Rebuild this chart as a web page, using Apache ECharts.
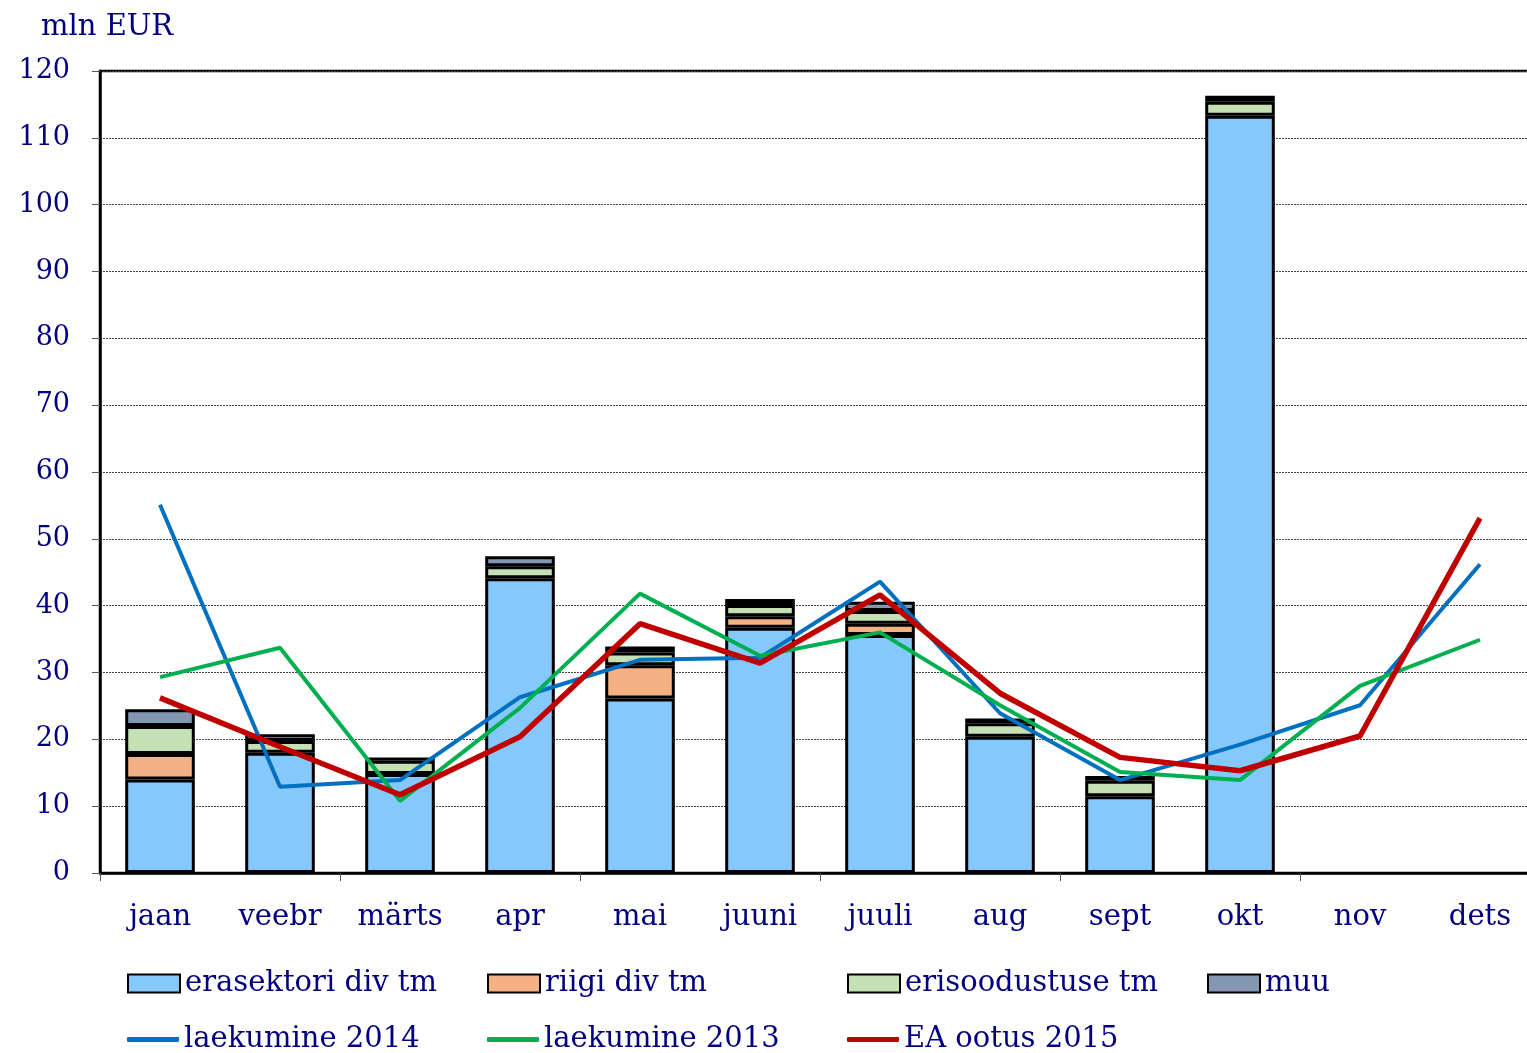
<!DOCTYPE html>
<html><head><meta charset="utf-8">
<script src="https://cdn.jsdelivr.net/npm/echarts@6/dist/echarts.min.js"></script>
<style>html,body{margin:0;padding:0;background:#fff;overflow:hidden}#c{width:1540px;height:1053px}</style>
</head><body><div id="c"></div>
<script>
const categories = ['jaan','veebr','märts','apr','mai','juuni','juuli','aug','sept','okt','nov','dets'];
const erasektori = [14.0, 18.0, 14.8, 44.1, 26.1, 36.7, 35.6, 20.4, 11.5, 113.3, null, null];
const riigi      = [3.8, null, null, null, 5.0, 1.7, 1.7, null, null, null, null, null];
const erisood    = [4.2, 1.75, 2.0, 1.8, 1.9, 1.7, 1.9, 2.0, 2.3, 2.1, null, null];
const muu        = [2.5, 1.0, 0.5, 1.5, 0.9, 0.9, 1.4, 0.7, 0.7, 0.9, null, null];
const laek2014   = [55.1, 12.9, 13.9, 26.3, 31.9, 32.2, 43.6, 23.9, 13.9, 19.2, 25.1, 46.2];
const laek2013   = [29.3, 33.7, 10.8, 24.7, 41.8, 32.5, 36.0, 25.1, 15.1, 13.9, 28.0, 34.9];
const ea2015     = [26.2, 18.9, 11.7, 20.4, 37.3, 31.4, 41.6, 26.9, 17.3, 15.3, 20.5, 53.1];
const yTicks = [0,10,20,30,40,50,60,70,80,90,100,110,120];

const FONT = 'DejaVu Serif';
const NAVY = '#000080';
const chart = echarts.init(document.getElementById('c'));

function bar(name, data, color) {
  return { name, type: 'bar', stack: 'a', data, barWidth: '58%',
    itemStyle: { color, borderColor: '#000', borderWidth: 3 }, z: 2 };
}
function line(name, data, color, w) {
  return { name, type: 'line', data, symbol: 'none', showSymbol: false, z: 5,
    lineStyle: { color, width: w }, itemStyle: { color } };
}
function leg(name, left, top, isLine) {
  return { show: true, data: [name], left, top, itemWidth: 52, itemHeight: isLine ? 5 : 18,
    icon: isLine ? 'roundRect' : 'rect',
    textStyle: { fontFamily: FONT, fontSize: 29, color: NAVY }, padding: 0 };
}

chart.setOption({
  animation: false,
  backgroundColor: '#fff',
  title: { text: 'mln EUR', left: 36, top: 8,
    textStyle: { fontFamily: FONT, fontSize: 29, fontWeight: 'normal', color: NAVY } },
  grid: { left: 100, right: 0, top: 71, bottom: 180, show: true,
    borderColor: '#000', borderWidth: 2.5, backgroundColor: 'transparent' },
  legend: [
    leg('erasektori div tm', 127, 969),
    leg('riigi div tm', 487, 969),
    leg('erisoodustuse tm', 847, 969),
    leg('muu', 1207, 969),
    leg('laekumine 2014', 127, 1025, true),
    leg('laekumine 2013', 487, 1025, true),
    leg('EA ootus 2015', 847, 1025, true)
  ],
  xAxis: { type: 'category', data: categories,
    axisLine: { lineStyle: { color: '#000', width: 2.5 } },
    axisTick: { show: true, interval: 1, length: 8, lineStyle: { color: '#555', width: 1 } },
    axisLabel: { fontFamily: FONT, fontSize: 29, color: NAVY, margin: 30 } },
  yAxis: { type: 'value', min: 0, max: 120, interval: 10,
    axisLine: { show: true, lineStyle: { color: '#000', width: 2.5 } },
    axisTick: { show: true, length: 8, inside: false, lineStyle: { color: '#555' } },
    axisLabel: { fontFamily: FONT, fontSize: 27, color: NAVY, margin: 30,
      formatter: v => yTicks.includes(v) ? String(v) : '' },
    splitLine: { show: true, lineStyle: { color: '#444', type: [2, 1], width: 1 } } },
  series: [
    bar('erasektori div tm', erasektori, '#85C8FC'),
    bar('riigi div tm', riigi, '#F4B183'),
    bar('erisoodustuse tm', erisood, '#C5E0B4'),
    bar('muu', muu, '#8497B0'),
    line('laekumine 2014', laek2014, '#0070C0', 4),
    line('laekumine 2013', laek2013, '#00B050', 4),
    line('EA ootus 2015', ea2015, '#C00000', 5.5)
  ]
});
</script></body></html>
